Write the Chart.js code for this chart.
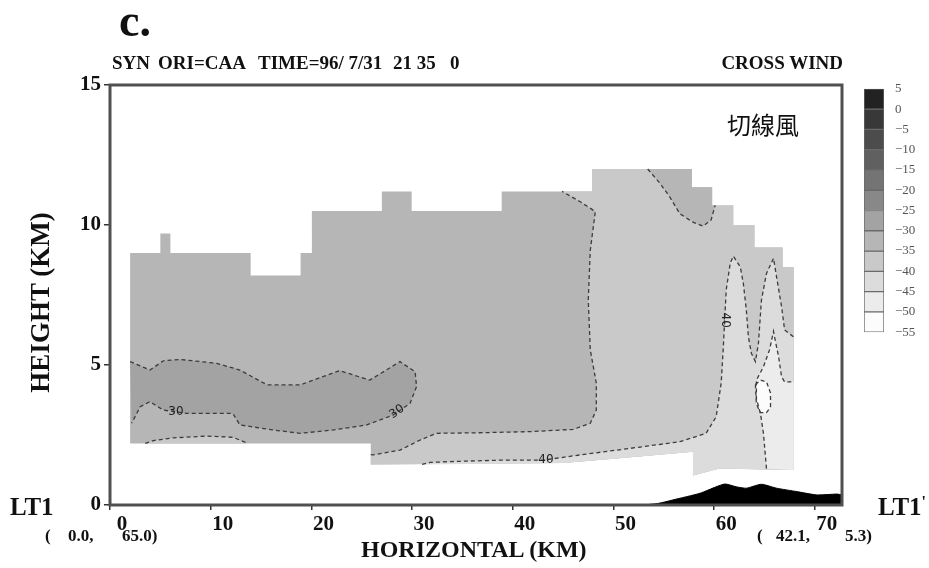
<!DOCTYPE html>
<html>
<head>
<meta charset="utf-8">
<script src="https://cdn.jsdelivr.net/npm/chart.js@4.4.1/dist/chart.umd.min.js"></script>
<style>
  body { margin: 0; background: #fff; width: 929px; height: 568px; overflow: hidden; position: relative; }
  #main { position: absolute; left: 0; top: 0; }
  #bar { position: absolute; left: 855px; top: 78px; }
  .t { position: absolute; font-family: "Liberation Serif", serif; font-weight: bold; color: #111; white-space: pre; line-height: 1; }
</style>
</head>
<body>
<canvas id="main" width="929" height="568"></canvas>
<canvas id="bar" width="74" height="265"></canvas>

<div class="t" style="left:119px;top:-2px;font-size:46px;">c.</div>
<div class="t" style="left:112px;top:53px;font-size:19px;">SYN</div>
<div class="t" style="left:158px;top:53px;font-size:19px;">ORI=CAA</div>
<div class="t" style="left:258px;top:53px;font-size:19px;">TIME=96/ 7/31</div>
<div class="t" style="left:393px;top:53px;font-size:19px;">21 35</div>
<div class="t" style="left:450px;top:53px;font-size:19px;">0</div>
<div class="t" style="right:86px;top:53px;font-size:19px;">CROSS WIND</div>
<div class="t" style="left:727px;top:112px;font-size:24px;font-weight:normal;font-family:'Noto Sans CJK TC',sans-serif;">切線風</div>
<div class="t" style="left:-55px;top:289px;font-size:27px;transform:rotate(-90deg);width:190px;text-align:center;">HEIGHT (KM)</div>
<div class="t" style="left:361px;top:537px;font-size:24px;">HORIZONTAL (KM)</div>
<div class="t" style="left:10px;top:494px;font-size:25px;">LT1</div>
<div class="t" style="left:878px;top:494px;font-size:25px;">LT1<span style="font-size:16px;vertical-align:top;">'</span></div>
<div class="t" style="left:45px;top:527px;font-size:17px;">(</div>
<div class="t" style="left:68px;top:527px;font-size:17px;">0.0,</div>
<div class="t" style="left:122px;top:527px;font-size:17px;">65.0)</div>
<div class="t" style="left:757px;top:527px;font-size:17px;">(</div>
<div class="t" style="left:776px;top:527px;font-size:17px;">42.1,</div>
<div class="t" style="left:845px;top:527px;font-size:17px;">5.3)</div>

<script>
// colour bands, top (5..0) to bottom (-50..-55)
const bandEdges = [5, 0, -5, -10, -15, -20, -25, -30, -35, -40, -45, -50, -55];
const bandShades = ['#222222', '#383838', '#4c4c4c', '#606060', '#747474', '#888888',
                    '#a3a3a3', '#b6b6b6', '#c9c9c9', '#dcdcdc', '#ececec', '#fcfcfc'];

const xTicks = [0, 10, 20, 30, 40, 50, 60, 70];
const yTicks = [0, 5, 10, 15];

// outline of the analysed area (km, km)  -> band -35..-30
const dataOutline = [[2.0,2.2],[2.0,9.0],[5.0,9.0],[5.0,9.7],[6.0,9.7],[6.0,9.0],[13.97,9.0],[13.97,8.2],
  [18.93,8.2],[18.93,9.0],[20.05,9.0],[20.05,10.5],[27.0,10.5],[27.0,11.2],[29.96,11.2],[29.96,10.5],
  [38.9,10.5],[38.9,11.2],[47.9,11.2],[47.9,12.0],[57.8,12.0],[57.8,11.35],[59.8,11.35],[59.8,10.7],
  [61.9,10.7],[61.9,10.0],[64.0,10.0],[64.0,9.2],[66.8,9.2],[66.8,8.5],[67.9,8.5],[67.9,1.25],
  [60.5,1.3],[57.9,1.05],[57.9,1.9],[50.0,1.65],[45.0,1.5],[25.9,1.45],[25.9,2.2],[2.0,2.2]];

// -30 contour around the darker tongue (band -30..-25)
const c30 = [[2.0,5.12],[3.97,4.82],[5.3,5.15],[6.95,5.2],[10.6,5.06],[12.9,4.82],[15.6,4.29],[18.9,4.29],
  [22.8,4.8],[25.8,4.46],[28.8,5.12],[30.3,4.76],[30.45,4.23],[29.8,3.63],[28.1,3.21],[25.5,2.86],
  [22.2,2.68],[18.9,2.56],[16.2,2.68],[12.9,2.86],[12.2,3.27],[7.6,3.27],[5.3,3.39],[3.97,3.69],
  [3.0,3.51],[2.15,2.92]];

// -35 contours (band -40..-35 below / right of them)
const c35Left = [[3.5,2.2],[4.3,2.3],[6.3,2.4],[9.6,2.46],[12.2,2.42],[13.7,2.2]];
const c35 = [[25.9,1.8],[26.1,1.79],[28.8,1.96],[30.8,2.32],[32.4,2.56],[36.7,2.58],[41.7,2.62],
  [46.0,2.7],[47.7,2.92],[48.3,3.39],[48.3,4.35],[47.7,5.54],[47.5,7.32],[47.7,9.1],[48.2,10.48],
  [46.7,10.83],[44.9,11.2]];
const c35Edge = [[47.9,11.2],[47.9,12.0],[57.8,12.0],[57.8,11.35],[59.8,11.35],[59.8,10.7],
  [61.9,10.7],[61.9,10.0],[64.0,10.0],[64.0,9.2],[66.8,9.2],[66.8,8.5],[67.9,8.5],[67.9,1.25],
  [60.5,1.3],[57.9,1.05],[57.9,1.9],[50.0,1.65],[45.0,1.5],[25.9,1.45]];

// -35 contour in the upper right corner (band -35..-30 above it)
const c35Top = [[53.4,12.0],[54.6,11.5],[55.6,11.0],[56.6,10.4],[57.9,10.1],[58.9,9.96],[59.7,10.18],[60.1,10.7]];
const c35TopEdge = [[59.8,10.7],[59.8,11.35],[57.8,11.35],[57.8,12.0]];

// -40 contour (band -45..-40 below it)
const c40 = [[31.0,1.45],[31.8,1.52],[33.8,1.55],[38.7,1.6],[43.0,1.6],[46.7,1.79],[51.6,2.02],
  [56.6,2.26],[59.2,2.56],[60.2,3.15],[60.7,4.35],[60.9,5.54],[61.2,7.68],[61.6,8.63],[61.9,8.89],
  [62.6,8.5],[62.9,7.92],[63.2,6.96],[63.4,6.01],[63.7,5.42],[64.1,5.12],[64.4,5.77],[64.7,7.32],
  [65.2,8.27],[65.9,8.81],[66.2,8.15],[66.7,7.08],[67.0,6.25],[67.9,6.0]];
const c40Edge = [[67.9,1.25],[60.5,1.3],[57.9,1.05],[57.9,1.9],[50.0,1.65],[45.0,1.5],[31.0,1.45]];

// -45 contour (band -50..-45 inside) and -50 closed contour
const c45 = [[65.2,1.3],[64.9,2.56],[64.6,3.27],[64.2,3.8],[64.2,4.46],[64.9,4.94],[65.5,5.54],
  [65.9,6.2],[66.0,6.0],[66.4,5.3],[66.7,4.58],[67.0,4.4],[67.9,4.4]];
const c45Edge = [[67.9,1.25],[65.2,1.3]];
const c50 = [[64.1,4.3],[64.6,4.46],[65.2,4.4],[65.6,4.0],[65.6,3.5],[65.2,3.3],[64.6,3.3],[64.2,3.6],[64.1,4.3]];

// terrain height along the section
const terrain = [[53.0,0],[54.5,0.06],[55.9,0.18],[58.6,0.42],[60.2,0.65],[61.1,0.75],[62.2,0.65],
  [63.2,0.6],[64.7,0.74],[66.2,0.6],[68.2,0.48],[70.2,0.36],[72.2,0.39],[72.7,0.36]];

const contourLabels = [
  {text: '30', x: 6.55, y: 3.31, rot: 0},
  {text: '30', x: 28.5, y: 3.33, rot: -35},
  {text: '40', x: 43.3, y: 1.6, rot: 0},
  {text: '40', x: 61.1, y: 6.6, rot: 90}
];

const pts = arr => arr.map(p => ({x: p[0], y: p[1]}));
// shade of the band whose upper edge is `top`
const shade = top => bandShades[bandEdges.indexOf(top)];

function area(points, color) {
  return {data: pts(points), fill: 'shape', backgroundColor: color, borderColor: 'rgba(0,0,0,0)',
          borderWidth: 0, pointRadius: 0, tension: 0};
}
function contour(points) {
  return {data: pts(points), fill: false, borderColor: '#3c3c3c', borderWidth: 1.3,
          borderDash: [4, 3], pointRadius: 0, tension: 0};
}

// bottom-most first
let layers = [
  area(dataOutline, shade(-30)),
  area(c30, shade(-25)),
  area(c35Left, shade(-35)),
  area(c35.concat(c35Edge), shade(-35)),
  area(c35Top.concat(c35TopEdge), shade(-30)),
  area(c40.concat(c40Edge), shade(-40)),
  area(c45.concat(c45Edge), shade(-45)),
  area(c50, shade(-50)),
  {data: pts(terrain), fill: 'origin', backgroundColor: '#000', borderColor: '#000', borderWidth: 1, pointRadius: 0, tension: 0.2},
  contour(c30), contour(c35Left), contour(c35), contour(c35Top), contour(c40), contour(c45), contour(c50)
];
layers = layers.reverse();

const framePlugin = {
  id: 'frame',
  afterDatasetsDraw(chart) {
    const {ctx, chartArea: a, scales} = chart;
    ctx.save();
    ctx.fillStyle = '#222';
    ctx.font = '12px "DejaVu Sans"';
    ctx.textAlign = 'center';
    ctx.textBaseline = 'middle';
    contourLabels.forEach(l => {
      ctx.save();
      ctx.translate(scales.x.getPixelForValue(l.x), scales.y.getPixelForValue(l.y));
      ctx.rotate(l.rot * Math.PI / 180);
      ctx.fillText(l.text, 0, 0);
      ctx.restore();
    });
    ctx.strokeStyle = '#505050';
    ctx.lineWidth = 3;
    ctx.strokeRect(a.left, a.top, a.right - a.left, a.bottom - a.top);
    ctx.restore();
  }
};

const tickFont = {family: 'Liberation Serif', weight: 'bold', size: 21};

new Chart(document.getElementById('main'), {
  type: 'line',
  data: {datasets: layers},
  options: {
    responsive: false,
    animation: false,
    layout: {padding: {left: 0, top: 85, right: 87, bottom: 33}},
    plugins: {legend: {display: false}, tooltip: {enabled: false}},
    scales: {
      x: {
        type: 'linear', min: 0, max: 72.7,
        border: {display: false},
        grid: {display: true, drawOnChartArea: false, tickLength: 5, color: '#333', lineWidth: 1.5},
        ticks: {stepSize: 10, includeBounds: false, autoSkip: false, maxRotation: 0, labelOffset: 12,
                padding: 2, color: '#111', font: tickFont},
        afterBuildTicks: s => { s.ticks = xTicks.map(v => ({value: v})); },
        afterFit: s => { s.height = 30; }
      },
      y: {
        type: 'linear', min: 0, max: 15,
        border: {display: false},
        grid: {display: true, drawOnChartArea: false, tickLength: 6, color: '#333', lineWidth: 1.5},
        ticks: {padding: 3, color: '#111', font: tickFont},
        afterBuildTicks: s => { s.ticks = yTicks.map(v => ({value: v})); },
        afterFit: s => { s.width = 110; }
      }
    }
  },
  plugins: [framePlugin]
});

// colour bar
const barSets = bandShades.map((c, i) => ({
  data: [[bandEdges[i + 1], bandEdges[i]]],
  backgroundColor: c, borderColor: '#6a6a6a', borderWidth: 1,
  barPercentage: 1, categoryPercentage: 1, borderSkipped: false
}));

new Chart(document.getElementById('bar'), {
  type: 'bar',
  data: {labels: [''], datasets: barSets},
  options: {
    responsive: false,
    animation: false,
    layout: {padding: {left: 9, top: 9, right: 0, bottom: 9}},
    plugins: {legend: {display: false}, tooltip: {enabled: false}},
    scales: {
      x: {display: false, stacked: true},
      y: {
        position: 'right', min: -55, max: 5,
        border: {display: false},
        grid: {display: false},
        ticks: {stepSize: 5, padding: 3, color: '#555', font: {family: 'Liberation Serif', size: 13},
                callback: v => (v < 0 ? '\u2212' + Math.abs(v) : String(v))},
        afterFit: s => { s.width = 45; }
      }
    }
  }
});
</script>
</body>
</html>
